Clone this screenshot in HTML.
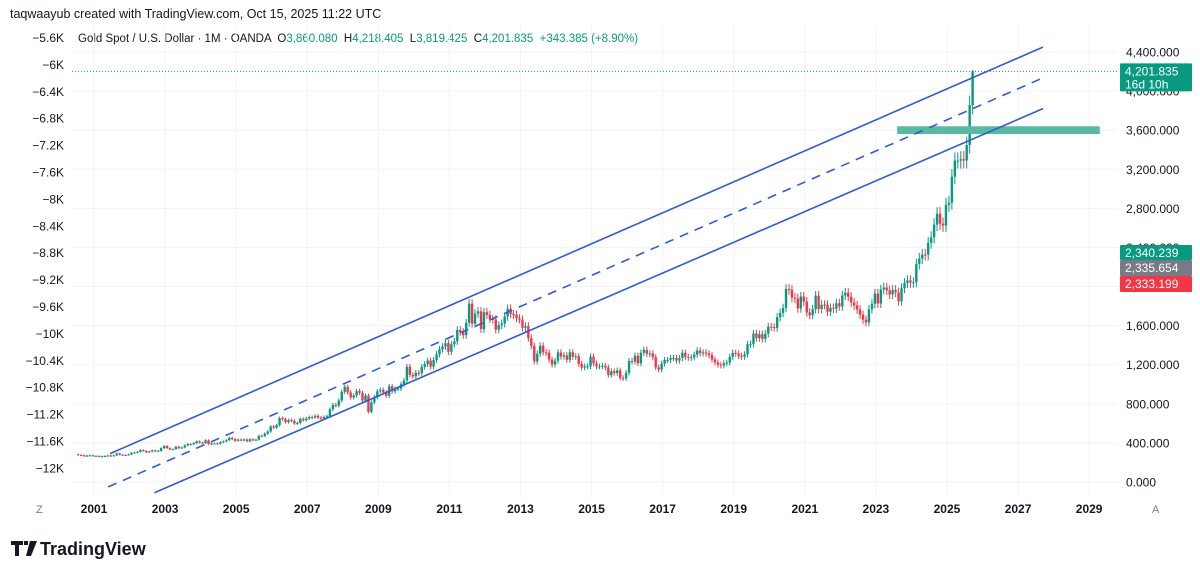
<!DOCTYPE html>
<html><head><meta charset="utf-8">
<style>
body{margin:0;background:#fff;font-family:"Liberation Sans",sans-serif;}
#wrap{position:relative;width:1200px;height:574px;overflow:hidden;}
svg text{font-family:"Liberation Sans",sans-serif;white-space:pre;}
</style></head>
<body>
<div id="wrap">
<svg id="chart" width="1200" height="574">
 <text x="10" y="18" font-size="12.5" fill="#131722">taqwaayub created with TradingView.com, Oct 15, 2025 11:22 UTC</text>
 <text x="78" y="42" font-size="11.5" fill="#131722">Gold Spot / U.S. Dollar · 1M · OANDA  O<tspan fill="#089981">3,860.080</tspan>  H<tspan fill="#089981">4,218.405</tspan>  L<tspan fill="#089981">3,819.425</tspan>  C<tspan fill="#089981">4,201.835</tspan>  <tspan fill="#089981">+343.385 (+8.90%)</tspan></text>
 <g id="grid"></g>
 <g id="leftAxis"></g>
 <g id="rightAxis"></g>
 <g id="xAxis"></g>
 <g id="candles"></g>
 <g id="drawings"></g>
 <g id="labels"></g>
 <text x="36" y="513" font-size="11" fill="#787b86">Z</text>
 <text x="1152" y="513" font-size="11" fill="#787b86">A</text>
 <g>
  <path d="M11 541h12v4h-4v11h-4v-11h-4z M24 541h4v4h-4z M30 541h7l-6 15h-5z" fill="#131722"/>
  <text x="40" y="555" font-size="18" font-weight="bold" fill="#131722">TradingView</text>
 </g>
</svg>
</div>
<script>
// data
const startYear = 2000, startMonth = 7; // Aug 2000
const closes = [277,273,265,270,273,
266,267,258,264,266,271,266,273,293,279,275,277,
282,297,302,308,327,318,304,312,324,317,318,347,
368,347,334,336,361,346,354,375,388,386,398,416,
403,397,426,388,394,395,391,408,415,428,452,438,
422,434,428,435,417,437,429,433,473,470,495,517,
568,556,582,654,643,613,633,626,599,604,646,632,
650,665,662,677,659,650,665,673,743,789,783,834,
923,972,916,865,885,930,912,833,884,718,815,869,
928,943,916,883,980,927,955,955,1001,1040,1179,1096,
1081,1118,1113,1179,1207,1242,1181,1248,1307,1357,1386,1421,
1332,1409,1439,1556,1536,1502,1628,1825,1620,1722,1746,1564,
1737,1710,1669,1664,1559,1604,1622,1692,1773,1719,1712,1675,
1663,1578,1595,1472,1393,1234,1313,1395,1327,1323,1253,1202,
1240,1326,1284,1296,1250,1327,1282,1287,1210,1171,1183,1184,
1283,1213,1183,1183,1190,1172,1095,1134,1115,1142,1065,1061,
1118,1238,1233,1292,1215,1322,1351,1309,1316,1277,1173,1151,
1211,1249,1249,1268,1268,1242,1269,1322,1280,1271,1275,1303,
1345,1318,1325,1315,1298,1253,1224,1201,1192,1215,1222,1281,
1321,1313,1292,1283,1305,1409,1413,1520,1472,1513,1464,1517,
1589,1585,1577,1686,1730,1781,1975,1967,1886,1879,1776,1898,
1847,1734,1707,1769,1906,1770,1814,1813,1742,1783,1774,1829,
1796,1909,1937,1896,1837,1807,1765,1711,1660,1633,1768,1824,
1928,1826,1969,1990,1962,1919,1965,1940,1849,1983,2036,2063,
2039,2044,2230,2286,2327,2326,2447,2503,2634,2744,2643,2625,
2835,2858,3124,3289,3289,3303,3290,3448,3858,4202];
const firstOpen = 283;
const lastHigh = 4218;
const rightTicks = [0,400,800,1200,1600,2000,2400,2800,3200,3600,4000,4400];
const leftTicks = ["−5.6K","−6K","−6.4K","−6.8K","−7.2K","−7.6K","−8K","−8.4K","−8.8K","−9.2K","−9.6K","−10K","−10.4K","−10.8K","−11.2K","−11.6K","−12K"];
const yearTicks = [2001,2003,2005,2007,2009,2011,2013,2015,2017,2019,2021,2023,2025,2027,2029];
const channelUpper = [[2001.45,290],[2027.7,4450]];
const channelMid = [[2001.4,-50],[2027.7,4135]];
const channelLower = [[2002.7,-110],[2027.7,3820]];
const zoneBox = [2023.6,2029.3,3560,3640];
const lastPrice = 4201.835;

const NS="http://www.w3.org/2000/svg";
function yP(v){return 482 - v*0.09773;}
function xT(t){return 94 + (t-2001)*35.54;}
function mk(tag,attrs,parent){const e=document.createElementNS(NS,tag);for(const k in attrs)e.setAttribute(k,attrs[k]);parent.appendChild(e);return e;}
const grid=document.getElementById('grid');
rightTicks.forEach(v=>{const l=mk('line',{x1:72,x2:1118,y1:yP(v),y2:yP(v),stroke:'#f0f3fa','stroke-width':1},grid);

});
yearTicks.forEach(y=>{const l=mk('line',{x1:xT(y),x2:xT(y),y1:26,y2:497,stroke:'#f0f3fa','stroke-width':1},grid);

});
const ra=document.getElementById('rightAxis');
rightTicks.forEach(v=>{const t=mk('text',{x:1126,y:yP(v)+4.5,'font-size':12,fill:'#131722'},ra);t.textContent=(v===0?'0':v.toLocaleString('en-US'))+'.000';

});
const la=document.getElementById('leftAxis');
leftTicks.forEach((s,i)=>{const t=mk('text',{x:64,y:42+i*26.9,'font-size':12,fill:'#131722','text-anchor':'end'},la);t.textContent=s;

});
const xa=document.getElementById('xAxis');
yearTicks.forEach(y=>{const t=mk('text',{x:xT(y),y:513,'font-size':12,'font-weight':'bold',fill:'#131722','text-anchor':'middle'},xa);t.textContent=y;

});
const cg=document.getElementById('candles');
closes.forEach((c,i)=>{
 const o=i===0?firstOpen:closes[i-1];
 const t=startYear+(startMonth+i)/12;
 const x=xT(t)-1;
 const up=c>=o, col=up?'#089981':'#f23645';
 const hi=i===closes.length-1?lastHigh:Math.max(o,c)*1.025, lo=Math.min(o,c)*0.975;
 const w=mk('line',{x1:x,x2:x,y1:yP(hi),y2:yP(lo),stroke:col,'stroke-width':1},cg);
 
 
 const top=yP(Math.max(o,c)),bot=yP(Math.min(o,c));
 const r=mk('rect',{x:x-1.2,y:top,width:2.4,height:Math.max(1,bot-top),fill:col},cg);
 
 
});
const dg=document.getElementById('drawings');
const z=mk('rect',{x:xT(zoneBox[0]),y:yP(zoneBox[3]),width:xT(zoneBox[1])-xT(zoneBox[0]),height:yP(zoneBox[2])-yP(zoneBox[3]),fill:'#5bb8a2'},dg);


[[channelUpper,null,'channel-upper-line'],[channelMid,'9 7','channel-middle-line'],[channelLower,null,'channel-lower-line']].forEach(([p,d,n])=>{
 const a={x1:xT(p[0][0]),y1:yP(p[0][1]),x2:xT(p[1][0]),y2:yP(p[1][1]),stroke:'#2f5bd3','stroke-width':1.6};
 if(d)a['stroke-dasharray']=d;
 const l=mk('line',a,dg);
 
 
});
const lg=document.getElementById('labels');
const pl=mk('line',{x1:72,x2:1118,y1:yP(lastPrice),y2:yP(lastPrice),stroke:'#089981','stroke-width':1,'stroke-dasharray':'1 2'},lg);


function box(y,h,col,lines,name){
 const r=mk('rect',{x:1120,y:y,width:72,height:h,fill:col,rx:1},lg);
 
 
 lines.forEach((s,i)=>{const t=mk('text',{x:1125,y:y+12+i*13,'font-size':12,fill:'#fff'},lg);t.textContent=s;});
}
box(yP(lastPrice)-8,28,'#089981',[lastPrice.toLocaleString('en-US',{minimumFractionDigits:3}),'16d 10h'],'last-price-label');
box(245,15,'#089981',['2,340.239'],'price-label-green');
box(260,16,'#787b86',['2,335.654'],'price-label-grey');
box(276,16,'#f23645',['2,333.199'],'price-label-red');
</script>
</body></html>
